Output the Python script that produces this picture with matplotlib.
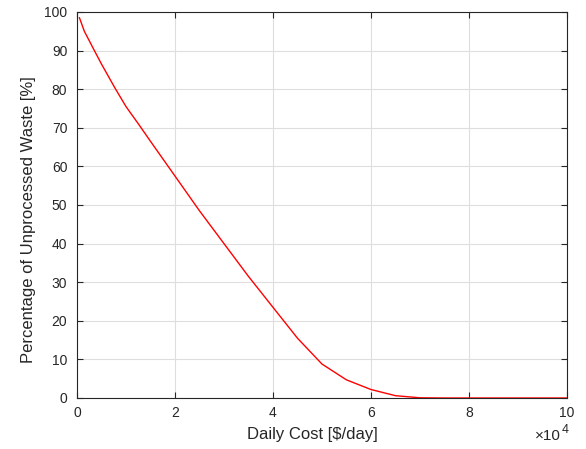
import matplotlib.pyplot as plt

# cost in $/day, remaining waste in %
cost = [500, 1500, 3300, 5000, 7750, 10000, 12700, 15000, 20000, 25000, 30000,
        35000, 40000, 45000, 50000, 55000, 60000, 65000, 70000, 75000, 80000,
        85000, 90000, 95000, 100000]
waste = [98.5, 95.0, 90.6, 86.5, 80.3, 75.5, 70.7, 66.5, 57.5, 48.5, 40.0,
         31.5, 23.5, 15.5, 8.8, 4.7, 2.2, 0.6, 0.05, 0, 0,
         0, 0, 0, 0]

xticks = [0, 20000, 40000, 60000, 80000, 100000]
xticklabels = ['0', '2', '4', '6', '8', '10']
yticks = list(range(0, 101, 10))

plt.rcParams['font.family'] = ['Liberation Sans', 'DejaVu Sans']

fig = plt.figure(figsize=(5.86, 4.49), dpi=100)
ax = fig.add_axes([0.1314, 0.1136, 0.836, 0.8597])

ax.plot(cost, waste, color='red', linewidth=1.0)

ax.set_xlim(0, 100000)
ax.set_ylim(0, 100)
ax.set_xticks(xticks)
ax.set_xticklabels(xticklabels)
ax.set_yticks(yticks)

ax.grid(True, color='#dedede', linewidth=0.8)
ax.set_axisbelow(True)
for s in ax.spines.values():
    s.set_color('#262626')
    s.set_linewidth(0.8)
ax.tick_params(axis='both', direction='in', top=True, right=True,
               labelsize=10, colors='#262626', length=4, width=0.8)
ax.tick_params(axis='x', pad=6)
ax.tick_params(axis='y', pad=7)

ax.set_xlabel('Daily Cost [$/day]', fontsize=12, color='#262626')
ax.xaxis.set_label_coords(0.48, -0.075)
ax.set_ylabel('Percentage of Unprocessed Waste [%]', fontsize=12, color='#262626')
ax.yaxis.label.set_va('center')
ax.yaxis.set_label_coords(-0.098, 0.461)

# scale factor below the x axis, MATLAB style
ax.text(0.9878, -0.109, '\u00d710', transform=ax.transAxes,
        ha='right', va='baseline', fontsize=11, color='#262626')
ax.text(0.9898, -0.0907, '4', transform=ax.transAxes,
        ha='left', va='baseline', fontsize=9, color='#262626')

plt.savefig('out.png', dpi=100)
